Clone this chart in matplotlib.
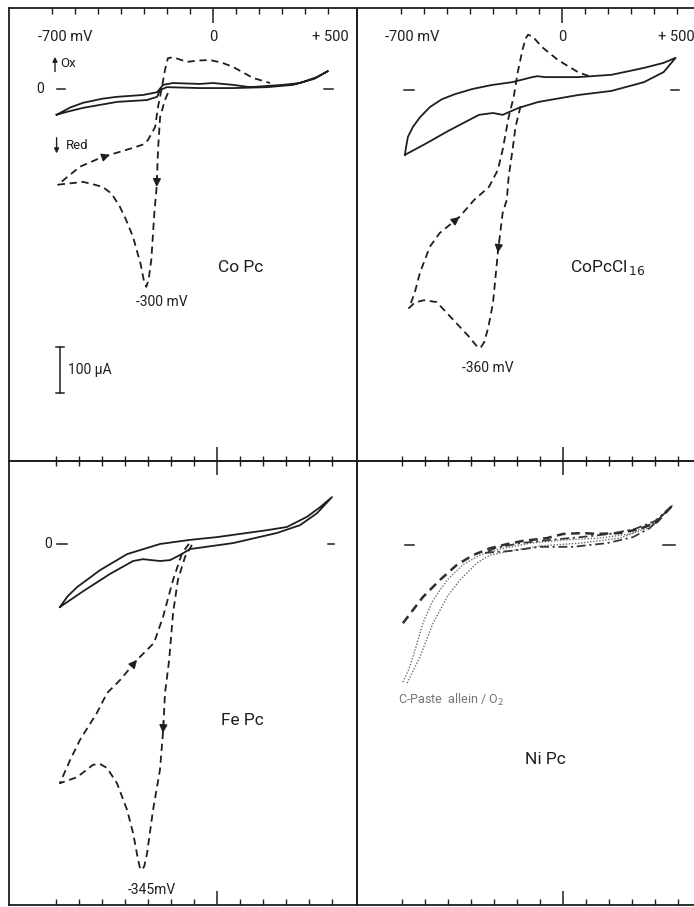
import matplotlib.pyplot as plt
from matplotlib.ticker import FixedLocator, NullFormatter

W, H = 694, 907
KX, KY = 0.23, 0.46   # px per mV, px per uA (Massstab der Vorlage)
INK = '#1e1e1e'
FONT = ['Roboto', 'DejaVu Sans']

# Potential-Teilung (mV)
tick_major = [0]
tick_minor = [-700, -600, -500, -400, -300, -200, -100, 100, 200, 300, 400, 500]

# --- CoPc ---
copc_bg_e = [-680, -620, -565, -480, -417, -304, -243, -217, -174, -57, 0, 87, 161, 304, 378, 452, 500,
             440, 348, 235, 87, -57, -200, -230, -243, -287, -417, -565, -630, -680]
copc_bg_i = [-56, -40, -30, -21, -17, -13, -7, 9, 13, 11, 13, 9, 4, 9, 13, 26, 39,
             22, 9, 4, 2, 2, 4, -2, -17, -24, -28, -41, -49, -56]
copc_o2_e = [-196, -209, -230, -239, -245, -255, -268, -280, -290, -300, -315, -348, -380, -405, -440,
             -479, -530, -565, -674,
             -579, -500, -448, -348, -300, -283, -252, -239, -222, -209, -196, -174, -113, -60,
             -13, 40, 87, 174, 248]
copc_o2_i = [-9, -24, -61, -132, -213, -269, -370, -415, -430, -418, -380, -321, -282, -256, -228,
             -213, -206, -202, -208,
             -169, -152, -143, -128, -120, -111, -83, -39, 4, 41, 67, 69, 59, 62,
             63, 57, 48, 24, 13]
copc_arrows = [4, 21]

# --- CoPcCl16 ---
cocl_bg_e = [-683, -678, -670, -648, -617, -574, -522, -465, -391, -304, -217, -129, -107, -73, 69,
             215, 356, 442, 494,
             442, 356, 215, 69, -103, -189, -258, -300, -361, -430, -502, -590, -683]
cocl_bg_i = [-141, -124, -102, -80, -59, -37, -20, -9, 2, 11, 17, 28, 30, 28, 28,
             33, 48, 59, 70,
             39, 17, -2, -11, -26, -39, -54, -50, -54, -72, -91, -116, -141]
cocl_o2_e = [-180, -202, -215, -232, -240, -258, -279, -300, -320, -338, -355, -372, -403, -472, -545,
             -601, -640, -665,
             -640, -618, -575, -532, -446, -382, -318, -279, -258, -232, -210, -193, -172, -158, -148,
             -129, -86, -17, 69, 129]
cocl_o2_i = [-35, -80, -130, -189, -239, -267, -354, -463, -515, -548, -561, -556, -537, -500, -461,
             -457, -462, -474,
             -440, -398, -341, -311, -276, -239, -211, -174, -130, -59, -15, 37, 87, 112, 120,
             117, 93, 65, 39, 28]
cocl_arrows = [6, 22]

# --- FePc ---
fepc_bg_e = [-683, -650, -609, -509, -391, -248, -117, 0, 217, 304, 391, 448, 500,
             435, 361, 261, 70, -117, -161, -204, -248, -322, -365, -465, -583, -683]
fepc_bg_i = [-137, -114, -94, -57, -22, 0, 9, 15, 30, 37, 59, 80, 102,
             67, 41, 24, 2, -11, -24, -35, -37, -33, -37, -65, -103, -137]
fepc_o2_e = [-109, -139, -170, -191, -208, -226, -235, -248, -278, -304, -316, -326,
             -336, -343, -365, -391, -435, -478, -509, -539, -575, -609, -683,
             -639, -596, -522, -478, -422, -348, -274, -235, -191, -152, -109]
fepc_o2_i = [-2, -28, -78, -150, -252, -324, -411, -491, -578, -672, -700, -709,
             -702, -687, -628, -578, -520, -487, -478, -480, -494, -507, -520,
             -470, -426, -367, -324, -296, -252, -215, -159, -78, -20, 9]
fepc_arrows = [6, 28]

# --- NiPc ---
nipc_dash_e = [-696, -609, -535, -461, -391, -317, -243, -174, -70, 0, 87, 148, 248, 335, 409, 478]
nipc_dash_i = [-170, -113, -76, -43, -22, -7, 2, 9, 15, 24, 26, 24, 26, 35, 50, 87]
nipc_dd_e = [-339, -230, -100, 43, 191, 304, 378, 478, 400, 313, 204, 74, -57, -187, -296, -339]
nipc_dd_i = [-17, -13, -4, -4, 4, 17, 37, 87, 52, 35, 24, 17, 11, 4, -7, -17]
nipc_paste1_e = [-696, -670, -652, -609, -565, -504, -435, -361, -274, -143, 0, 161, 291, 400, 478]
nipc_paste1_i = [-298, -270, -243, -170, -120, -76, -43, -22, -9, 4, 11, 15, 24, 50, 87]
nipc_paste2_e = [-678, -650, -622, -565, -504, -448, -374, -317, -230, -100, 74, 248, 378, 478]
nipc_paste2_i = [-300, -272, -243, -170, -113, -76, -39, -22, -13, -2, 4, 15, 39, 87]

fig = plt.figure(figsize=(W / 100, H / 100), dpi=100)
fig.patch.set_facecolor('white')


def make_panel(left, right, top, bottom, x0, y0):
    ax = fig.add_axes([left / W, 1 - bottom / H, (right - left) / W, (bottom - top) / H])
    ax.set_xlim((left - x0) / KX, (right - x0) / KX)
    ax.set_ylim((y0 - bottom) / KY, (y0 - top) / KY)
    ax.patch.set_visible(False)
    ax.set_yticks([])
    for s in ax.spines.values():
        s.set_linewidth(1.3)
        s.set_color(INK)
    ax.xaxis.set_major_locator(FixedLocator(tick_major))
    ax.xaxis.set_minor_locator(FixedLocator(tick_minor))
    ax.xaxis.set_major_formatter(NullFormatter())
    ax.xaxis.set_minor_formatter(NullFormatter())
    return ax


def top_ticks(ax):
    ax.xaxis.tick_top()
    ax.tick_params(axis='x', which='major', direction='in', length=11, width=1.1, color=INK)
    ax.tick_params(axis='x', which='minor', direction='in', length=4, width=1.0, color=INK)
    ax.spines['bottom'].set_visible(False)


def bottom_ticks(ax):
    ax.xaxis.tick_bottom()
    ax.tick_params(axis='x', which='major', direction='in', length=10, width=1.1, color=INK)
    ax.tick_params(axis='x', which='minor', direction='in', length=4, width=1.0, color=INK)
    sec = ax.secondary_xaxis('top')
    sec.xaxis.set_major_locator(FixedLocator(tick_major))
    sec.xaxis.set_minor_locator(FixedLocator(tick_minor))
    sec.xaxis.set_major_formatter(NullFormatter())
    sec.xaxis.set_minor_formatter(NullFormatter())
    sec.tick_params(axis='x', which='major', direction='inout', length=20, width=1.1, color=INK)
    sec.tick_params(axis='x', which='minor', direction='inout', length=7, width=1.0, color=INK)
    sec.spines['top'].set_linewidth(1.3)
    sec.spines['top'].set_color(INK)


def zero_marks(ax, segs, label_x=None):
    for a, b in segs:
        ax.plot([a, b], [0, 0], color=INK, lw=1.1)
    if label_x is not None:
        ax.text(label_x, 0, '0', ha='center', va='center', fontsize=10, color=INK, family=FONT)


def curve_arrows(ax, e, i, idx, color=INK):
    for k in idx:
        tail = (e[k] - 0.3 * (e[k] - e[k - 1]), i[k] - 0.3 * (i[k] - i[k - 1]))
        ax.annotate('', xy=(e[k], i[k]), xytext=tail,
                    arrowprops=dict(arrowstyle='-|>', color=color, lw=1.0,
                                    mutation_scale=12, shrinkA=0, shrinkB=0))


DASH = (0, (4, 2.6))
txt = dict(color=INK, family=FONT)
small_arrow = dict(arrowstyle='-|>', color=INK, lw=1.0, mutation_scale=7, shrinkA=0, shrinkB=0)

# ---------- oben links: CoPc ----------
ax = make_panel(9, 357, 8, 461, 213, 89)
top_ticks(ax)
ax.plot(copc_bg_e, copc_bg_i, color=INK, lw=1.3)
ax.plot(copc_o2_e, copc_o2_i, color=INK, lw=1.3, linestyle=DASH)
curve_arrows(ax, copc_o2_e, copc_o2_i, copc_arrows)
zero_marks(ax, [(-678, -643), (483, 522)], label_x=-752)
ax.text(-643, 113, '-700 mV', ha='center', va='center', fontsize=10.5, **txt)
ax.text(0, 113, '0', ha='center', va='center', fontsize=10.5, **txt)
ax.text(509, 113, '+ 500', ha='center', va='center', fontsize=10.5, **txt)
ax.annotate('', xy=(-687, 70), xytext=(-687, 38), arrowprops=small_arrow)
ax.text(-665, 55, 'Ox', ha='left', va='center', fontsize=9.5, **txt)
ax.annotate('', xy=(-680, -140), xytext=(-680, -106), arrowprops=small_arrow)
ax.text(-640, -122, 'Red', ha='left', va='center', fontsize=9.5, **txt)
ax.text(122, -389, 'Co Pc', ha='center', va='center', fontsize=12.5, **txt)
ax.text(-222, -463, '-300 mV', ha='center', va='center', fontsize=10, **txt)
# Strommassstab 100 uA
ax.plot([-665, -665], [-561, -661], color=INK, lw=1.1)
ax.plot([-683, -648], [-561, -561], color=INK, lw=1.1)
ax.plot([-683, -648], [-661, -661], color=INK, lw=1.1)
ax.text(-630, -611, '100 µA', ha='left', va='center', fontsize=10, **txt)

# ---------- oben rechts: CoPcCl16 ----------
ax = make_panel(357, 704, 8, 461, 562, 90)
top_ticks(ax)
ax.spines['right'].set_visible(False)
ax.plot(cocl_bg_e, cocl_bg_i, color=INK, lw=1.3)
ax.plot(cocl_o2_e, cocl_o2_i, color=INK, lw=1.3, linestyle=DASH)
curve_arrows(ax, cocl_o2_e, cocl_o2_i, cocl_arrows)
zero_marks(ax, [(-687, -643), (474, 509)])
ax.text(-652, 115, '-700 mV', ha='center', va='center', fontsize=10.5, **txt)
ax.text(0, 115, '0', ha='center', va='center', fontsize=10.5, **txt)
ax.text(417, 115, '+ 500', ha='left', va='center', fontsize=10.5, **txt)
ax.text(200, -385, r'CoPcCl$_{\,16}$', ha='center', va='center', fontsize=12.5, **txt)
ax.text(-322, -604, '-360 mV', ha='center', va='center', fontsize=10, **txt)

# ---------- unten links: FePc ----------
ax = make_panel(9, 357, 461, 905, 217, 544)
bottom_ticks(ax)
ax.plot(fepc_bg_e, fepc_bg_i, color=INK, lw=1.3)
ax.plot(fepc_o2_e, fepc_o2_i, color=INK, lw=1.3, linestyle=DASH)
curve_arrows(ax, fepc_o2_e, fepc_o2_i, fepc_arrows)
zero_marks(ax, [(-696, -652), (483, 509)], label_x=-735)
ax.text(109, -383, 'Fe Pc', ha='center', va='center', fontsize=12.5, **txt)
ax.text(-283, -752, '-345mV', ha='center', va='center', fontsize=10, **txt)

# ---------- unten rechts: NiPc ----------
ax = make_panel(357, 704, 461, 905, 563, 545)
bottom_ticks(ax)
ax.spines['right'].set_visible(False)
ax.plot(nipc_paste1_e, nipc_paste1_i, color='#6e6e6e', lw=1.0, linestyle=(0, (1, 1.2)))
ax.plot(nipc_paste2_e, nipc_paste2_i, color='#6e6e6e', lw=1.0, linestyle=(0, (1, 1.2)))
ax.plot(nipc_dd_e, nipc_dd_i, color='#3a3a3a', lw=1.3, linestyle=(0, (5, 2, 1.2, 2)))
ax.plot(nipc_dash_e, nipc_dash_i, color='#2e2e2e', lw=1.8, linestyle=(0, (3.5, 2.2)))
zero_marks(ax, [(-687, -648), (435, 487)])
ax.text(-717, -337, r'C-Paste  allein / O$_2$', ha='left', va='center', fontsize=9,
        color='#777777', family=FONT)
ax.text(-78, -467, 'Ni Pc', ha='center', va='center', fontsize=12.5, **txt)

fig.savefig('out.png', dpi=100, facecolor='white')
